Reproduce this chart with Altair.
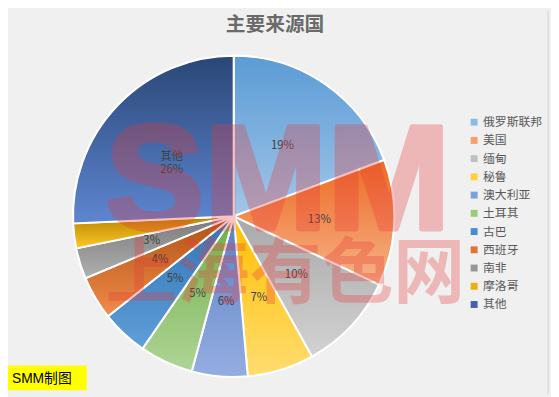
import altair as alt
import pandas as pd

# ---- data ----
categories = ["俄罗斯联邦", "美国", "缅甸", "秘鲁", "澳大利亚", "土耳其", "古巴", "西班牙", "南非", "摩洛哥", "其他"]
shares = [19.3, 12.7, 9.9, 6.7, 5.6, 5.4, 4.7, 4.4, 3.1, 2.5, 25.7]
labels = ["19%", "13%", "10%", "7%", "6%", "5%", "5%", "4%", "3%", "", "其他\n26%"]

title_text = ["主要来源国"]
wm_big = ["SMM"]
wm_small = ["上海有色网"]
footer_text = ["SMM制图"]

# ---- styles ----
legend_colors = ["#8dbae4", "#f4a06c", "#c0c0c0", "#ffd040", "#7f9fd8", "#9cca7c",
                 "#4a8ccc", "#e07434", "#979797", "#eeb010", "#4262aa"]
grad_top = ["#5b9bd5", "#ed6a22", "#a9a9a9", "#ffc000", "#5a7fc8", "#70ad47",
            "#2e75b6", "#b05212", "#7a7a7a", "#b88400", "#2a4677"]
grad_bottom = ["#a2c6e8", "#f6b48a", "#d2d2d2", "#ffdc70", "#95aee0", "#afd596",
               "#609ed8", "#f08c4c", "#b0b0b0", "#ffc828", "#5e86d0"]

df = pd.DataFrame({"cat": categories, "share": shares, "label": labels})
df["end"] = df["share"].cumsum()
df["start"] = df["end"] - df["share"]
df["mid"] = (df["start"] + df["end"]) / 2

CX, CY, R = 229, 208.5, 163
theta_scale = alt.Scale(domain=[0, 100])
base = alt.Chart(df)

solid = base.mark_arc(outerRadius=R, stroke="white", strokeWidth=2).encode(
    x=alt.value(CX), y=alt.value(CY),
    theta=alt.Theta("start:Q", scale=theta_scale),
    theta2="end:Q",
    color=alt.Color(
        "cat:N",
        scale=alt.Scale(domain=categories, range=legend_colors),
        legend=alt.Legend(
            title=None, orient="none", legendX=467, legendY=107,
            symbolType="square", symbolSize=49, symbolStrokeWidth=0,
            labelFontSize=12, labelFont="Noto Sans CJK SC", labelColor="#595959",
            rowPadding=6.5, labelOffset=3, padding=0,
        ),
    ),
)

grad_layers = []
for c, t, b in zip(categories, grad_top, grad_bottom):
    g = alt.Gradient(
        gradient="linear", x1=0, y1=0, x2=0, y2=1,
        stops=[alt.GradientStop(offset=0, color=t), alt.GradientStop(offset=1, color=b)],
    )
    grad_layers.append(
        base.transform_filter(alt.datum.cat == c)
        .mark_arc(outerRadius=R, stroke="white", strokeWidth=2, color=g)
        .encode(
            x=alt.value(CX), y=alt.value(CY),
            theta=alt.Theta("start:Q", scale=theta_scale),
            theta2="end:Q",
        )
    )

text = base.mark_text(radius=87, fontSize=11.5, color="#404040", lineBreak="\n",
                      font="Noto Sans CJK SC").encode(
    x=alt.value(CX), y=alt.value(CY),
    theta=alt.Theta("mid:Q", scale=theta_scale, stack=None),
    text="label:N",
)

wm1 = alt.Chart(pd.DataFrame({"t": wm_big})).mark_text(
    font="Liberation Sans", fontWeight="bold", fontSize=150, color="#e83838",
    stroke="#e83838", strokeWidth=5, strokeJoin="round",
    opacity=0.3, align="left", baseline="alphabetic",
).encode(x=alt.value(99), y=alt.value(221), text="t:N")

wm2 = alt.Chart(pd.DataFrame({"t": wm_small})).mark_text(
    font="Noto Sans CJK SC", fontWeight="bold", fontSize=73, color="#e83838",
    opacity=0.3, align="left", baseline="middle",
).encode(x=alt.value(99), y=alt.value(268), text="t:N")

title = alt.Chart(pd.DataFrame({"t": title_text})).mark_text(
    font="Noto Sans CJK SC", fontWeight="bold", fontSize=20, color="#6a6a6a",
    align="center", baseline="middle",
).encode(x=alt.value(271), y=alt.value(14), text="t:N")

footer_df = pd.DataFrame({"t": footer_text})
footer_box = alt.Chart(footer_df).mark_rect(color="#ffff00").encode(
    x=alt.value(0), x2=alt.value(80), y=alt.value(360), y2=alt.value(385)
)
footer = alt.Chart(footer_df).mark_text(
    font="Liberation Sans, Noto Sans CJK SC", fontSize=14, color="#000000",
    align="left", baseline="middle",
).encode(x=alt.value(4), y=alt.value(373.5), text="t:N")

border = alt.Chart(footer_df).mark_rule(color="#d0d0d0", strokeWidth=1).encode(
    x=alt.value(548), y=alt.value(0), y2=alt.value(389)
)

chart = alt.layer(
    border, solid, *grad_layers, text, wm1, wm2, title, footer_box, footer
).properties(
    width=551, height=389,
    autosize=alt.AutoSizeParams(type="none"),
    padding=0,
    background="#f0f0f0",
).configure_view(stroke=None)

chart.save("out.html", embed_options={"renderer": "svg", "actions": False})
